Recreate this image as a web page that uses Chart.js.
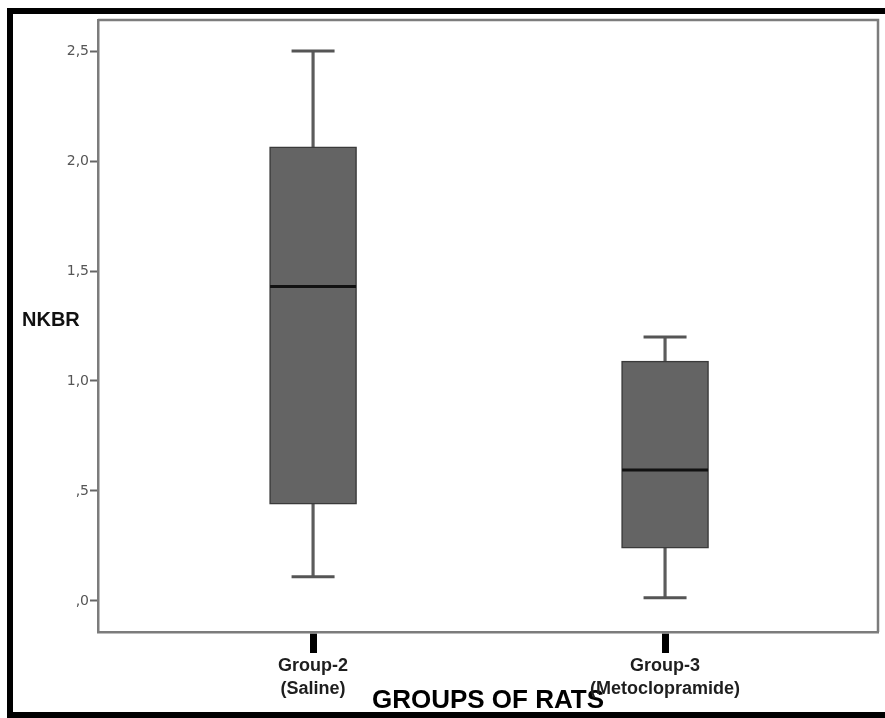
<!DOCTYPE html>
<html>
<head>
<meta charset="utf-8">
<script src="https://cdn.jsdelivr.net/npm/chart.js@4.4.1/dist/chart.umd.min.js"></script>
<style>
  html, body { margin: 0; padding: 0; background: #fff; overflow: hidden; }
  #wrap { position: relative; width: 885px; height: 718px; }
  #c { position: absolute; left: 0; top: 0; }
  #frame { position: absolute; left: 7px; top: 8px; right: -30px; bottom: 0px; border: 6px solid #000; pointer-events: none; }
  #ylab { position: absolute; left: 22px; top: 309px; font: bold 20px "Liberation Sans", Arial, sans-serif; line-height: 20px; color: #111; }
</style>
</head>
<body>
<div id="wrap">
  <canvas id="c" width="885" height="718"></canvas>
  <div id="ylab">NKBR</div>
  <div id="frame"></div>
</div>
<script>
// ---- data ----
const categories = [["Group-2", "(Saline)"], ["Group-3", "(Metoclopramide)"]];
const whiskerMin = [0.11, 0.015];
const quartile1  = [0.44, 0.24];
const medians    = [1.43, 0.595];
const quartile3  = [2.065, 1.09];
const whiskerMax = [2.50, 1.20];
const yTickValues = [0, 0.5, 1.0, 1.5, 2.0, 2.5];
const yTickLabels = [",0", ",5", "1,0", "1,5", "2,0", "2,5"];
const xAxisTitle = "GROUPS OF RATS";

const pts = (arr) => arr.map((v, i) => ({ x: i, y: v }));
const ranges = (a, b) => a.map((v, i) => ({ x: i, y: [v, b[i]] }));

const framePlugin = {
  id: "frame",
  beforeDatasetsDraw(chart) {
    const { ctx, chartArea: a } = chart;
    ctx.save();
    ctx.strokeStyle = "#7c7c7c";
    ctx.lineWidth = 2.5;
    ctx.beginPath();
    ctx.moveTo(a.left, a.top);
    ctx.lineTo(a.right, a.top);
    ctx.lineTo(a.right, a.bottom);
    ctx.stroke();
    ctx.restore();
  }
};

new Chart(document.getElementById("c"), {
  type: "bar",
  data: {
    datasets: [
      { type: "line", label: "median", data: pts(medians), showLine: false, order: 0, clip: false,
        pointStyle: "line", pointRadius: 43, pointHoverRadius: 43, pointBorderWidth: 3, pointHoverBorderWidth: 3,
        pointBorderColor: "#111", pointBackgroundColor: "#111" },
      { type: "line", label: "min", data: pts(whiskerMin), showLine: false, order: 1, clip: false,
        pointStyle: "line", pointRadius: 21.5, pointHoverRadius: 21.5, pointBorderWidth: 3, pointHoverBorderWidth: 3,
        pointBorderColor: "#555", pointBackgroundColor: "#555" },
      { type: "line", label: "max", data: pts(whiskerMax), showLine: false, order: 1, clip: false,
        pointStyle: "line", pointRadius: 21.5, pointHoverRadius: 21.5, pointBorderWidth: 3, pointHoverBorderWidth: 3,
        pointBorderColor: "#555", pointBackgroundColor: "#555" },
      { label: "box", data: ranges(quartile1, quartile3), order: 2, grouped: false,
        barThickness: 87, backgroundColor: "#646464", borderColor: "#3a3a3a", borderWidth: 1.5, borderSkipped: false },
      { label: "lowerWhisker", data: ranges(whiskerMin, quartile1), order: 3, grouped: false,
        barThickness: 2.5, backgroundColor: "#5c5c5c", borderWidth: 0 },
      { label: "upperWhisker", data: ranges(quartile3, whiskerMax), order: 3, grouped: false,
        barThickness: 2.5, backgroundColor: "#5c5c5c", borderWidth: 0 }
    ]
  },
  options: {
    responsive: false,
    animation: false,
    events: [],
    layout: { autoPadding: false, padding: { top: 20, right: 7, left: 0, bottom: 0 } },
    plugins: { legend: { display: false }, tooltip: { enabled: false } },
    scales: {
      x: {
        type: "linear",
        min: -0.611,
        max: 1.605,
        offset: false,
        afterBuildTicks: (s) => { s.ticks = categories.map((c, i) => ({ value: i })); },
        afterFit: (s) => { s.height = 86; s.paddingLeft = 0; s.paddingRight = 0; s.paddingTop = 0; s.paddingBottom = 0; },
        border: { display: true, color: "#7c7c7c", width: 2.5 },
        grid: { offset: false, drawOnChartArea: false, drawTicks: true, tickLength: 21, tickWidth: 7, tickColor: "#000" },
        ticks: {
          autoSkip: false, maxRotation: 0, padding: 1, color: "#1e1e1e",
          font: { family: "'Liberation Sans', Arial, sans-serif", size: 18, weight: "bold", lineHeight: 1.3 },
          callback: (v) => categories[v]
        },
        title: {
          display: true, text: xAxisTitle, color: "#000",
          font: { family: "'Liberation Sans', Arial, sans-serif", size: 26, weight: "bold", lineHeight: 1.2 },
          padding: { top: 0, bottom: 2 }
        }
      },
      y: {
        min: -0.141,
        max: 2.641,
        afterBuildTicks: (s) => { s.ticks = yTickValues.map((v) => ({ value: v })); },
        afterFit: (s) => { s.width = 98; s.paddingLeft = 0; s.paddingRight = 0; s.paddingTop = 0; s.paddingBottom = 0; },
        border: { display: true, color: "#7c7c7c", width: 2.5 },
        grid: { drawOnChartArea: false, drawTicks: true, tickLength: 8, tickWidth: 2, tickColor: "#666" },
        ticks: {
          padding: 1, color: "#555",
          font: { family: "'DejaVu Sans', sans-serif", size: 14 },
          callback: (v, i) => yTickLabels[i]
        }
      }
    }
  },
  plugins: [framePlugin]
});
</script>
</body>
</html>
